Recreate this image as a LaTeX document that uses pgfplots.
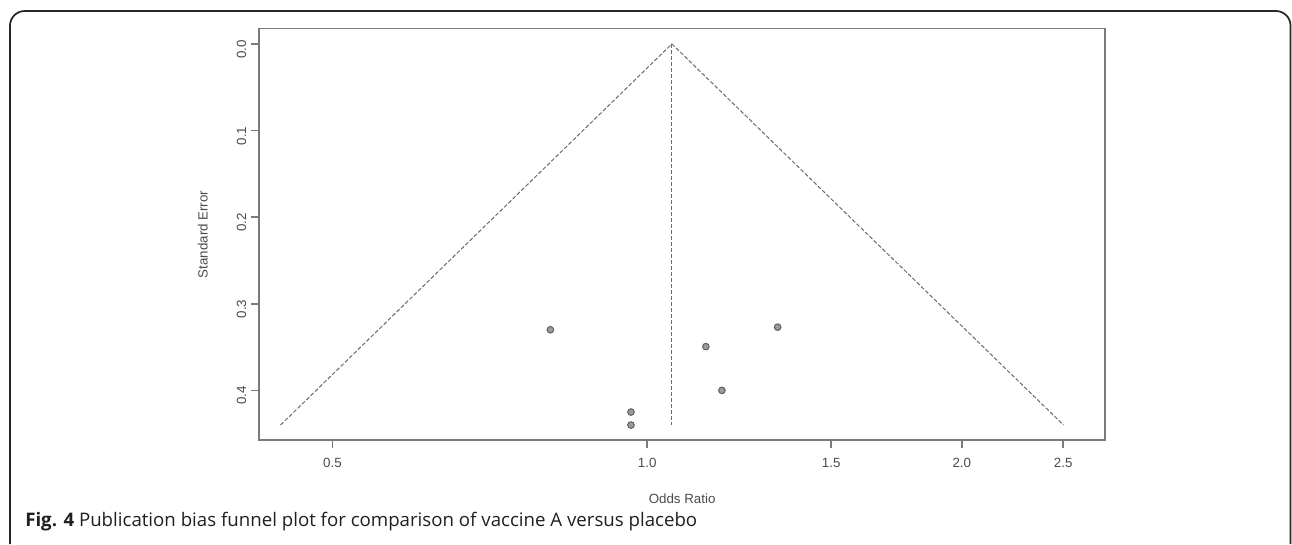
\documentclass[border=0pt]{standalone}
\usepackage{pgfplots}
\pgfplotsset{compat=1.18}
\usepackage{fontspec}
\setmainfont{Liberation Sans}
\newfontfamily\capfont{Open Sans}

\definecolor{axisgray}{HTML}{7A7A7A}
\definecolor{textgray}{HTML}{4A4A4A}
\definecolor{dashgray}{HTML}{6A6A6A}
\definecolor{ptfill}{HTML}{9A9A9A}
\definecolor{ptedge}{HTML}{5A5A5A}

% funnel lines and study points, odds ratio vs standard error
\pgfplotstableread{
or     se
0.808  0.330
0.965  0.425
0.965  0.440
1.138  0.3495
1.179  0.400
1.333  0.327
}\studies

\begin{document}
\begin{tikzpicture}
\useasboundingbox (0,0) rectangle (969pt,-408pt);
\draw[line width=1.3pt, color=black!85, rounded corners=11pt]
  (7.5pt,-408pt) -- (7.5pt,-8.25pt) -- (967.9pt,-8.25pt) -- (967.9pt,-408pt);

\begin{axis}[
    at={(194.25pt,-21.5pt)}, anchor=north west,
    scale only axis,
    width=634.7pt, height=308.7pt,
    xmode=log,
    xmin=0.4253, xmax=2.743,
    ymin=-0.0176, ymax=0.4576,
    y dir=reverse,
    axis line style={color=axisgray, line width=1.2pt},
    tick style={color=axisgray, line width=1.2pt},
    tick align=outside,
    major tick length=6pt,
    xtick={0.5,1,1.5,2,2.5},
    xticklabels={0.5,1.0,1.5,2.0,2.5},
    ytick={0,0.1,0.2,0.3,0.4},
    yticklabels={0.0,0.1,0.2,0.3,0.4},
    minor xtick={}, minor ytick={},
    xtick pos=bottom, ytick pos=left,
    log ticks with fixed point,
    ticklabel style={font=\fontsize{10}{12}\selectfont, text=textgray},
    xticklabel style={anchor=north, yshift=-4pt},
    yticklabel style={rotate=90, anchor=south, xshift=-4pt},
    xlabel={Odds Ratio},
    ylabel={Standard Error},
    label style={font=\fontsize{10}{12}\selectfont, text=textgray},
    xlabel style={at={(axis description cs:0.5,-0.1409)}, anchor=center},
    ylabel style={at={(axis description cs:-0.0662,0.5)}, anchor=center},
    clip=false,
]
\addplot[color=dashgray, line width=0.75pt, dash pattern=on 3pt off 1.5pt]
    coordinates {(0.446,0.44) (1.056,0) (2.502,0.44)};
\addplot[color=dashgray, line width=0.75pt, dash pattern=on 3pt off 1.5pt]
    coordinates {(1.056,0) (1.056,0.44)};
\addplot[only marks, mark=*, mark size=2.5pt,
    mark options={fill=ptfill, draw=ptedge, line width=0.7pt}]
    table[x=or, y=se] {\studies};
\end{axis}

\node[anchor=base west, inner sep=0pt, text=black!88] at (18.75pt,-395pt)
  {\capfont\fontsize{14}{16}\selectfont\textbf{Fig. 4} Publication bias funnel plot for comparison of vaccine A versus placebo};
\end{tikzpicture}
\end{document}
